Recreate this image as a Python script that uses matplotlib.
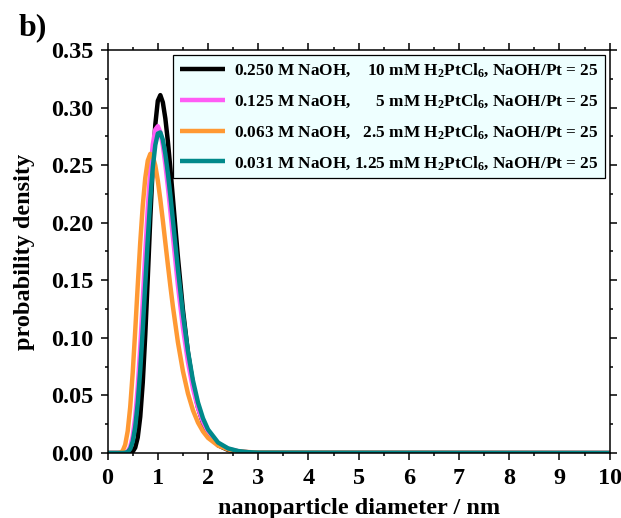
import matplotlib
matplotlib.use('Agg')
from matplotlib import pyplot as plt
from matplotlib.ticker import MultipleLocator

plt.rcParams['font.family'] = ['Liberation Serif', 'DejaVu Serif']
plt.rcParams['font.weight'] = 'bold'
plt.rcParams['axes.labelweight'] = 'bold'
plt.rcParams['mathtext.fontset'] = 'custom'
plt.rcParams['mathtext.rm'] = 'Liberation Serif:bold'
plt.rcParams['mathtext.bf'] = 'Liberation Serif:bold'
plt.rcParams['mathtext.it'] = 'Liberation Serif:bold'
plt.rcParams['mathtext.default'] = 'bf'

# diameter (nm) and probability density
diameter = [0.0, 0.2, 0.25, 0.3, 0.35, 0.4, 0.45, 0.5, 0.55, 0.6, 0.65, 0.7,
            0.75, 0.8, 0.85, 0.9, 0.95, 1.0, 1.05, 1.1, 1.15, 1.2, 1.25, 1.3,
            1.4, 1.5, 1.6, 1.7, 1.8, 1.9, 2.0, 2.2, 2.4, 2.6, 2.8, 3.0, 10.0]

naoh_0250 = [0, 0, 0, 0, 0, 0, 0.0002, 0.0012, 0.0047, 0.0135, 0.0315, 0.0612,
             0.1026, 0.1521, 0.2036, 0.2500, 0.2853, 0.3059, 0.3108, 0.3045,
             0.2905, 0.2707, 0.2471, 0.2215, 0.1702, 0.1244, 0.0875, 0.0597,
             0.0397, 0.0259, 0.0167, 0.0067, 0.0026, 0.0010, 0.0004, 0.0001, 0]

naoh_0125 = [0, 0, 0, 0, 0.0003, 0.0015, 0.0054, 0.0145, 0.0313, 0.0574, 0.0918,
             0.1319, 0.1737, 0.2126, 0.2449, 0.2680, 0.2809, 0.2838, 0.2786,
             0.2670, 0.2507, 0.2313, 0.2100, 0.1881, 0.1457, 0.1088, 0.0790,
             0.0560, 0.0390, 0.0268, 0.0182, 0.0082, 0.0036, 0.0016, 0.0007,
             0.0003, 0]

naoh_0063 = [0, 0, 0.0003, 0.0018, 0.0071, 0.0190, 0.0399, 0.0699, 0.1064,
             0.1456, 0.1830, 0.2149, 0.2389, 0.2539, 0.2598, 0.2578, 0.2496,
             0.2365, 0.2202, 0.2019, 0.1827, 0.1635, 0.1449, 0.1273, 0.0962,
             0.0711, 0.0517, 0.0371, 0.0264, 0.0187, 0.0131, 0.0064, 0.0031,
             0.0015, 0.0008, 0.0004, 0]

naoh_0031 = [0, 0, 0, 0, 0.0002, 0.0009, 0.0035, 0.0099, 0.0226, 0.0432, 0.0720,
             0.1075, 0.1466, 0.1854, 0.2203, 0.2482, 0.2675, 0.2774, 0.2784,
             0.2720, 0.2597, 0.2431, 0.2235, 0.2024, 0.1596, 0.1206, 0.0883,
             0.0629, 0.0439, 0.0301, 0.0204, 0.0091, 0.0040, 0.0017, 0.0007,
             0.0003, 0]

labels = [
    r'0.250 M NaOH,    10 mM H$_2$PtCl$_6$, NaOH/Pt = 25',
    r'0.125 M NaOH,      5 mM H$_2$PtCl$_6$, NaOH/Pt = 25',
    r'0.063 M NaOH,   2.5 mM H$_2$PtCl$_6$, NaOH/Pt = 25',
    r'0.031 M NaOH, 1.25 mM H$_2$PtCl$_6$, NaOH/Pt = 25',
]
colors = ['#000000', '#ff5cf5', '#ff9933', '#00898a']
series = [naoh_0250, naoh_0125, naoh_0063, naoh_0031]


def main():
    fig = plt.figure(figsize=(6.21, 5.18), dpi=100)
    ax = fig.add_axes([0.1733, 0.1255, 0.8084, 0.778])

    for ys, c, lab in zip(series, colors, labels):
        ax.plot(diameter, ys, color=c, lw=3.2, label=lab, solid_capstyle='butt')

    ax.set_xlim(0, 10)
    ax.set_ylim(0, 0.35)
    ax.xaxis.set_major_locator(MultipleLocator(1))
    ax.xaxis.set_minor_locator(MultipleLocator(0.5))
    ax.yaxis.set_major_locator(MultipleLocator(0.05))
    ax.yaxis.set_minor_locator(MultipleLocator(0.025))
    ax.yaxis.set_major_formatter(lambda v, pos: '%.2f' % v)
    ax.tick_params(which='both', direction='out', top=True, right=True,
                   width=1.1, labelsize=17.5)
    ax.tick_params(axis='x', which='major', pad=6)
    ax.tick_params(axis='y', which='major', pad=5)
    ax.tick_params(which='major', length=5)
    ax.tick_params(which='minor', length=2.5)
    for sp in ax.spines.values():
        sp.set_linewidth(1.1)

    ax.set_xlabel('nanoparticle diameter / nm', fontsize=17.5, labelpad=6)
    ax.set_ylabel('probability density', fontsize=17.5, labelpad=12)

    leg = ax.legend(loc='upper right', bbox_to_anchor=(0.991, 0.988),
                    borderaxespad=0, fontsize=12.4, handlelength=2.6,
                    handletextpad=0.55, labelspacing=0.76, borderpad=0.38,
                    fancybox=False, framealpha=1, edgecolor='black')
    leg.get_frame().set_facecolor('#eeffff')
    leg.get_frame().set_linewidth(0.9)

    fig.text(0.03, 0.975, 'b)', fontsize=23, ha='left', va='top')

    fig.savefig('out.png', dpi=100)


if __name__ == '__main__':
    main()
